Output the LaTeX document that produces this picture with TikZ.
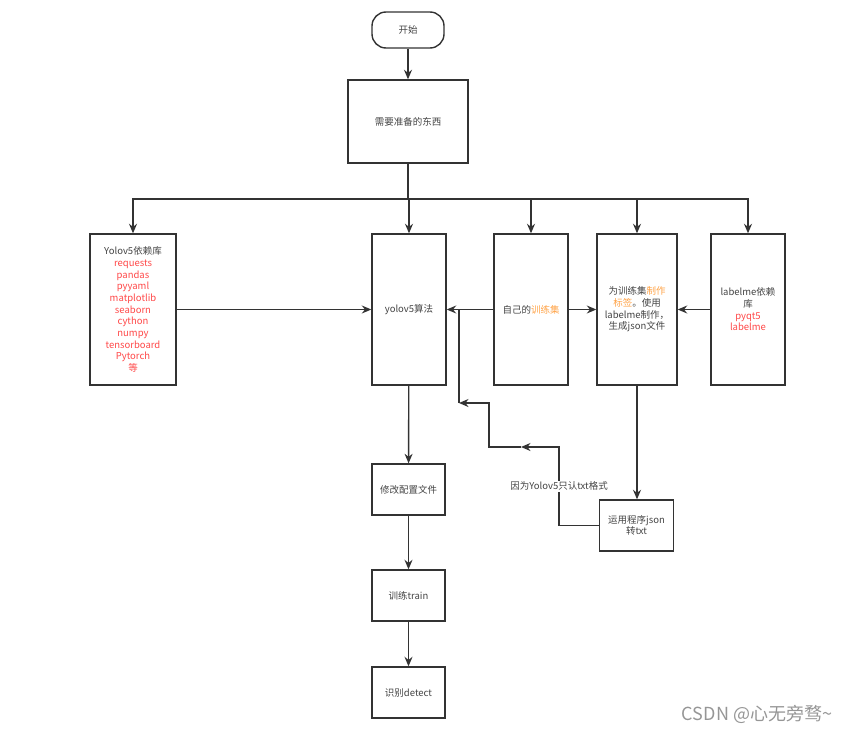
\documentclass[tikz,border=0pt]{standalone}
\usepackage{fontspec}
\setmainfont{Noto Sans CJK SC}
\usepackage{tikz}
\usetikzlibrary{arrows.meta}
\usepackage{xcolor}
\definecolor{linegray}{RGB}{51,51,51}
\definecolor{txtgray}{RGB}{68,68,68}
\definecolor{libred}{RGB}{255,72,72}
\definecolor{setorange}{RGB}{255,164,72}
\definecolor{markgray}{RGB}{150,150,150}

\begin{document}
\begin{tikzpicture}[x=1pt,y=-1pt,>={Stealth[length=9.5pt,width=8pt]},
  box/.style={draw=linegray,line width=1.4pt,fill=white,inner sep=0pt,align=center,
    text=txtgray,font=\fontsize{9.5}{11.7}\selectfont},
  conn/.style={draw=linegray,line width=1.4pt},
  note/.style={fill=white,inner sep=1pt,text=txtgray,font=\fontsize{9.5}{11.7}\selectfont}]
  \useasboundingbox (0,0) rectangle (851,733);
  % top part
  \node[box,rounded corners=14pt,minimum width=72pt,minimum height=36pt] (start) at (408,30) {开始};
  \node[box,minimum width=120pt,minimum height=83pt] (prep) at (408,121.5) {需要准备的东西};
  % middle row
  \node[box,minimum width=86pt,minimum height=151pt] (deps) at (133,309.5)
    {Yolov5依赖库\\\color{libred}requests\\\color{libred}pandas\\\color{libred}pyyaml\\
     \color{libred}matplotlib\\\color{libred}seaborn\\\color{libred}cython\\\color{libred}numpy\\
     \color{libred}tensorboard\\\color{libred}Pytorch\\\color{libred}等};
  \node[box,minimum width=74pt,minimum height=151pt] (algo) at (409,309.5) {yolov5算法};
  \node[box,minimum width=74pt,minimum height=151pt] (own) at (531,309.5)
    {自己的\textcolor{setorange}{训练集}};
  \node[box,minimum width=80pt,minimum height=151pt] (make) at (637,309.5)
    {为训练集\textcolor{setorange}{制作}\\\textcolor{setorange}{标签}。使用\\labelme制作，\\生成json文件};
  \node[box,minimum width=74pt,minimum height=151pt] (lbl) at (748,309.5)
    {labelme依赖\\库\\\color{libred}pyqt5\\\color{libred}labelme};
  % lower part
  \node[box,minimum width=73pt,minimum height=51pt] (cfg) at (408.5,489.5) {修改配置文件};
  \node[box,minimum width=73pt,minimum height=51pt] (train) at (408.5,595.5) {训练train};
  \node[box,minimum width=73pt,minimum height=51pt] (det) at (408.5,692.5) {识别detect};
  \node[box,minimum width=74pt,minimum height=51pt] (conv) at (636.5,525.5) {运用程序json\\转txt};
  % bus and turning points
  \coordinate (bus) at (408,199);
  \coordinate (turnA) at (559,447);
  \coordinate (midAB) at (521,447);
  \coordinate (turnB) at (489,447);
  \coordinate (turnC) at (489,403);
  \coordinate (joinD) at (459,403);
  \coordinate (joinE) at (459,309.5);
  \draw[conn,->] (start) -- (prep);
  \draw[conn] (prep.south) -- (bus);
  \foreach \b in {deps,algo,own,make,lbl}
    \draw[conn,->] (bus) -| (\b.north);
  \draw[conn,->] (deps.east) -- (algo.west);
  \draw[conn,->] (own.west) -- (algo.east);
  \draw[conn,->] (own.east) -- (make.west);
  \draw[conn,->] (lbl.west) -- (make.east);
  \draw[conn,->] (make.south) -- (make.south |- conv.north);
  \draw[conn,->] (conv.west) -- (conv.west -| turnA)
    -- node[note] {因为Yolov5只认txt格式} (turnA) -- (midAB);
  \draw[conn,->] (midAB) -- (turnB) -- (turnC) -- (joinD);
  \draw[conn] (joinD) -- (joinE);
  \draw[conn,->] (algo) -- (cfg);
  \draw[conn,->] (cfg) -- (train);
  \draw[conn,->] (train) -- (det);
  % watermark
  \node[text=markgray,font=\fontsize{18}{20}\selectfont] (mark) at (757,714) {CSDN @心无旁骛\textasciitilde};
\end{tikzpicture}
\end{document}
